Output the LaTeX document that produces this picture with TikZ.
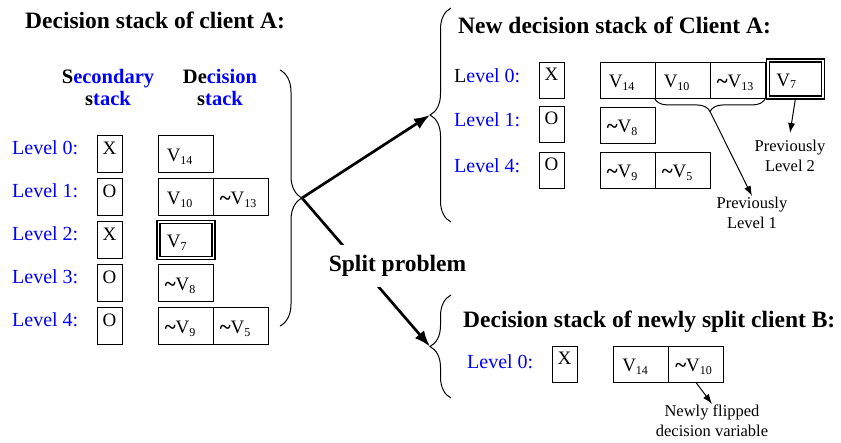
\documentclass[tikz,border=0pt]{standalone}
\usepackage{fontspec}
\usepackage{graphicx}
\setmainfont{Liberation Serif}
\usetikzlibrary{arrows.meta,decorations.pathreplacing,calc}
\definecolor{lvblue}{RGB}{0,0,255}
\newcommand\dgtitle{\fontsize{23.5}{26}\selectfont\bfseries}
\newcommand\dghead{\fontsize{20.5}{22}\selectfont\bfseries}
\newcommand\dglevel{\fontsize{20}{22}\selectfont}
\newcommand\dgcell{\fontsize{19}{21}\selectfont}
\newcommand\dgnote{\fontsize{16.5}{20}\selectfont}
\newcommand\sbx[1]{\raisebox{-2.5pt}{\fontsize{12}{12}\selectfont #1}}
\newcommand\dgtilde{\raisebox{-1.2pt}{\scalebox{1.1}[1.15]{\bfseries\textasciitilde}}}
\begin{document}
\begin{tikzpicture}[x=1pt,y=-1pt,
  box/.style={draw, line width=0.9pt, inner sep=0pt, minimum height=37pt},
  secbox/.style={box, minimum width=25pt},
  decbox/.style={box, minimum width=55pt},
  dblbox/.style={draw, double, line width=1.5pt, double distance=1.5pt, inner sep=0pt, minimum width=55pt, minimum height=36pt},
  celltxt/.style={font=\dgcell, inner sep=0pt},
  lvl/.style={font=\dglevel, text=lvblue, inner sep=0pt, anchor=base west},
  ttl/.style={font=\dgtitle, inner sep=0pt, anchor=base west},
  hdr/.style={font=\dghead, text=lvblue, align=center, inner sep=0pt, anchor=north},
  note/.style={font=\dgnote, align=center, inner sep=1pt, anchor=north},
  bigarrow/.style={line width=2.7pt, -{Latex[length=16pt,width=12pt]}},
  smallarrow/.style={line width=1pt, -{Latex[length=10pt,width=7pt]}},
  bracedeco/.style={decorate, line width=1pt, decoration={brace, amplitude=#1}},
  mirrorbrace/.style={decorate, line width=1pt, decoration={brace, mirror, amplitude=#1}}
]
\useasboundingbox (0,0) rectangle (841,442);

% ---------- decision stack of client A ----------
\node[ttl] (tA) at (25,28.5) {Decision stack of client A:};
\node[hdr] (hS) at (108,69) {{\color{black}S}econdary\\{\color{black}s}tack};
\node[hdr] (hD) at (220,69) {{\color{black}De}cision\\{\color{black}s}tack};

\foreach \i/\ty/\m in {0/135/X,1/178/O,2/221/X,3/264/O,4/307/O}{
  \node[lvl] (la\i) at (12,\ty+19.5) {Level \i:};
  \node[secbox] (sa\i) at (109.5,\ty+18.5) {};
  \node[celltxt, anchor=base] (sat\i) at ($(sa\i.north)+(0,19.5)$) {\m};
}

\node[decbox] (da0) at (185.5,153.5) {};
\node[celltxt, anchor=base west] (da0t) at ($(da0.north west)+(9,27)$) {V\sbx{14}};
\node[decbox] (da1) at (185.5,196.5) {};
\node[celltxt, anchor=base west] (da1t) at ($(da1.north west)+(9,27)$) {V\sbx{10}};
\node[decbox] (db1) at (240.5,196.5) {};
\node[celltxt, anchor=base west] (db1t) at ($(db1.north west)+(7,27)$) {\dgtilde V\sbx{13}};
\node[dblbox] (da2) at (186,240) {};
\node[celltxt, anchor=base west] (da2t) at ($(da2.north west)+(9,26.5)$) {V\sbx{7}};
\node[decbox] (da3) at (185.5,282.5) {};
\node[celltxt, anchor=base west] (da3t) at ($(da3.north west)+(7,27)$) {\dgtilde V\sbx{8}};
\node[decbox] (da4) at (185.5,325.5) {};
\node[celltxt, anchor=base west] (da4t) at ($(da4.north west)+(7,27)$) {\dgtilde V\sbx{9}};
\node[decbox] (db4) at (240.5,325.5) {};
\node[celltxt, anchor=base west] (db4t) at ($(db4.north west)+(7,27)$) {\dgtilde V\sbx{5}};

% brace gathering client A
\coordinate (lb1) at (280,70);
\coordinate (lb2) at (280,326);
\draw[bracedeco=22pt] (lb1) -- (lb2);
\coordinate (lbt) at ($(lb1)!0.5!(lb2)+(22,0)$);

% ---------- new decision stack of client A ----------
\coordinate (rb1) at (451,222);
\coordinate (rb2) at (451,8);
\draw[bracedeco=21pt] (rb1) -- (rb2);
\coordinate (rbt) at ($(rb1)!0.5!(rb2)+(-21,0)$);

\node[ttl] (tN) at (458,33) {New decision stack of Client A:};

\node[lvl] (lc0) at (454,82) {{\color{black}L}evel 0:};
\node[lvl] (lc1) at (454,126) {Level 1:};
\node[lvl] (lc2) at (454,172) {Level 4:};

\foreach \i/\ty/\m in {0/62/X,1/106/O,2/152/O}{
  \node[secbox, minimum height=36pt] (sc\i) at (551.5,\ty+18) {};
  \node[celltxt, anchor=base] (sct\i) at ($(sc\i.north)+(0,19)$) {\m};
}

\node[decbox, minimum height=36pt] (dc0) at (627.5,80) {};
\node[celltxt, anchor=base west] (dc0t) at ($(dc0.north west)+(9,26)$) {V\sbx{14}};
\node[decbox, minimum height=36pt] (ec0) at (682.5,80) {};
\node[celltxt, anchor=base west] (ec0t) at ($(ec0.north west)+(9,26)$) {V\sbx{10}};
\node[decbox, minimum height=36pt] (fc0) at (737.5,80) {};
\node[celltxt, anchor=base west] (fc0t) at ($(fc0.north west)+(7,26)$) {\dgtilde V\sbx{13}};
\node[dblbox, minimum height=37pt] (gc0) at (795.5,79) {};
\node[celltxt, anchor=base west] (gc0t) at ($(gc0.north west)+(9,26.5)$) {V\sbx{7}};

\node[decbox, minimum height=36pt] (dc1) at (627.5,125) {};
\node[celltxt, anchor=base west] (dc1t) at ($(dc1.north west)+(7,26)$) {\dgtilde V\sbx{8}};
\node[decbox, minimum height=36pt] (dc2) at (627.5,170) {};
\node[celltxt, anchor=base west] (dc2t) at ($(dc2.north west)+(7,26)$) {\dgtilde V\sbx{9}};
\node[decbox, minimum height=36pt] (ec2) at (682.5,170) {};
\node[celltxt, anchor=base west] (ec2t) at ($(ec2.north west)+(7,26)$) {\dgtilde V\sbx{5}};

% brace under V10 and ~V13
\draw[mirrorbrace=13pt] (ec0.south west) -- (fc0.south east);
\coordinate (ubt) at ($(ec0.south west)!0.5!(fc0.south east)+(0,13)$);

\node[note] (pl1) at (752,196) {Previously\\Level 1};
\node[note] (pl2) at (790,139) {Previously\\Level 2};
\draw[smallarrow] (ubt) -- (pl1.north);
\draw[smallarrow] (gc0.south) -- ($(pl2.north)+(0,-6)$);

% ---------- decision stack of newly split client B ----------
\coordinate (bb1) at (451,398);
\coordinate (bb2) at (451,295);
\draw[bracedeco=21pt] (bb1) -- (bb2);
\coordinate (bbt) at ($(bb1)!0.5!(bb2)+(-21,0)$);

\node[ttl] (tB) at (463,327) {Decision stack of newly split client B:};
\node[lvl] (ld0) at (467,368) {Level 0:};
\node[secbox, minimum height=36pt] (sd0) at (564.5,364) {};
\node[celltxt, anchor=base] (sdt0) at ($(sd0.north)+(0,19)$) {X};
\node[decbox, minimum height=36pt] (dd0) at (641,364) {};
\node[celltxt, anchor=base west] (dd0t) at ($(dd0.north west)+(9,26)$) {V\sbx{14}};
\node[decbox, minimum height=36pt] (ed0) at (696,364) {};
\node[celltxt, anchor=base west] (ed0t) at ($(ed0.north west)+(7,26)$) {\dgtilde V\sbx{10}};

\node[note] (nf) at (712,404) {Newly flipped\\decision variable};
\draw[smallarrow] (ed0.south) -- (nf.north);

% ---------- the split ----------
\draw[bigarrow] (lbt) -- (rbt);
\draw[bigarrow] (lbt) -- (bbt);
\node[font=\dgtitle, fill=white, inner xsep=2pt, inner ysep=2pt, minimum height=42pt] (sp) at (397.5,266) {Split problem};
\end{tikzpicture}
\end{document}
